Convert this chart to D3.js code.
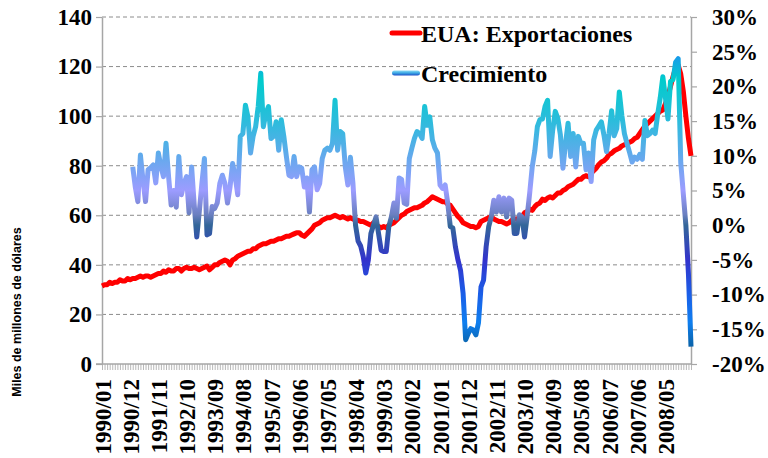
<!DOCTYPE html>
<html>
<head>
<meta charset="utf-8">
<script src="https://cdn.jsdelivr.net/npm/d3@7"></script>
<style>
  body { margin: 0; background: #fff; }
  svg text, .tick text { font-family: "Liberation Serif", "Times New Roman", serif !important; font-weight: bold; fill: #000; }
  svg text.sans { font-family: "Liberation Sans", Arial, sans-serif !important; }
</style>
</head>
<body>
<svg id="chart" width="768" height="458"></svg>
<script>
// Monthly US exports (billions of dollars), 1990/01 .. 2009/03
var exportsData = [
  31.5, 32, 32, 33, 32.5, 33, 33, 34, 33.5, 33.5, 34.5, 34,          // 1990
  34.5, 34.5, 35, 35.5, 35, 35.5, 35.5, 35, 35.5, 36, 36.5, 36.5,    // 1991
  37.5, 37, 38, 37.5, 37.5, 38.5, 38.5, 37.5, 38.5, 39, 38.5, 38.5,  // 1992
  39, 38.5, 38, 38.5, 39, 39.5, 38, 39, 40, 40, 41, 41.5,            // 1993
  42, 41.5, 40, 42, 42.5, 43.5, 44, 44.5, 45, 45.5, 45.5, 46.5,      // 1994
  46.5, 47.5, 48, 48.5, 48.5, 49, 49.5, 49.5, 50, 50.5, 50.5, 51,    // 1995
  51.5, 51.5, 52, 52.5, 53, 53, 52, 51.5, 52.5, 53.5, 54.5, 56,      // 1996
  56.5, 57, 58, 58.5, 59, 59, 59.5, 60, 59.5, 59, 59.5, 59,          // 1997
  58.5, 59, 58.5, 58, 58, 57.5, 57.5, 57, 56.5, 56, 57, 56,          // 1998
  55.5, 55, 55.5, 55, 56, 56.5, 57, 58, 59, 60, 60.5, 61.5,          // 1999
  62, 62.5, 63, 63, 63.5, 64, 65, 65.5, 66.5, 67.5, 67, 66.5,        // 2000
  66, 65.5, 65.5, 64.5, 64, 62.5, 61, 59.5, 58.5, 57, 56.5, 56,      // 2001
  55.5, 55.5, 55, 55.5, 57.5, 58, 58.5, 59, 59.5, 58.5, 58, 57.5,    // 2002
  57.5, 57, 56.5, 57, 58, 58.5, 58.5, 59, 59.5, 61, 61.5, 62.5,      // 2003
  62, 63.5, 64.5, 65, 66.5, 66, 67, 67.5, 67, 68, 69, 69,            // 2004
  70, 70.5, 71.5, 72, 72.5, 73.5, 74.5, 74.5, 75.5, 76, 75.5, 77,    // 2005
  78, 79, 80.5, 81.5, 82, 83, 84.5, 85, 86, 86.5, 87, 88,            // 2006
  88.5, 89, 89.5, 90, 91, 91.5, 93, 94.5, 96, 97, 98, 99,            // 2007
  100, 101, 102, 102.5, 105, 108, 112, 116, 119.5, 120.5, 117, 110,  // 2008
  100, 91, 84                                                        // 2009
];

// Year-on-year growth (%), 1991/01 .. 2009/03
var growthData = [
  8.4, 5.5, 3.4, 10.1, 6.5, 3.4, 8.0, 8.3, 8.7, 6.1, 10.4, 8.5,         // 1991
  7.0, 11.8, 7.0, 2.9, 5.0, 2.6, 9.9, 4.4, 6.0, 7.0, 1.8, 8.4,          // 1992
  3.0, -1.7, 2.0, 6.0, 9.6, -1.4, -1.2, 2.7, 2.4, 3.2, 6.0, 7.2,        // 1993
  6.0, 3.2, 5.5, 8.9, 7.0, 4.4, 12.8, 13.2, 17.3, 15.6, 10.4, 12.8,     // 1994
  14.2, 17.1, 21.9, 14.2, 16.1, 17.1, 12.5, 12.8, 14.9, 10.8, 15.2, 12.8, // 1995
  9.9, 7.2, 7.0, 9.9, 7.0, 8.4, 8.2, 5.5, 6.8, 1.9, 8.0, 8.4,           // 1996
  5.1, 6.0, 9.6, 10.8, 11.1, 10.8, 11.8, 18.0, 10.8, 13.5, 13.2, 8.4,   // 1997
  5.8, 9.8, 6.0, 0.0, -2.3, -3.0, -4.5, -6.9, -5.0, -1.2, 0.0, 1.2,     // 1998
  -1.2, -3.6, -3.8, -3.8, -0.2, 1.2, 3.2, 1.0, 6.8, 6.6, 3.2, 3.0,      // 1999
  9.6, 11.1, 12.5, 13.5, 13.2, 12.5, 17.1, 14.4, 15.6, 12.3, 11.1, 10.4, // 2000
  5.8, 5.3, 5.8, 3.2, -0.2, -0.4, -3.1, -5.0, -6.5, -9.8, -16.5, -15.6, // 2001
  -14.9, -15.1, -15.8, -14.1, -8.9, -7.9, -3.1, -0.2, 1.2, 3.6, 1.9, 4.1, // 2002
  1.9, 3.9, 1.2, 3.9, 3.6, -1.2, -1.2, 1.5, 1.2, -1.7, 1.2, 4.6,        // 2003
  8.4, 10.7, 14.2, 15.2, 15.3, 17.1, 18.0, 9.9, 13.7, 16.4, 15.4, 13.0, // 2004
  8.2, 11.8, 14.7, 9.9, 13.2, 8.4, 12.8, 11.8, 11.8, 8.0, 10.4, 6.3,    // 2005
  12.3, 13.7, 14.3, 14.9, 13.0, 10.6, 13.2, 16.5, 12.9, 13.9, 19.2, 15.8, // 2006
  13.2, 11.8, 10.5, 9.1, 9.8, 9.5, 10.2, 9.5, 15.1, 12.9, 13.2, 13.7,   // 2007
  13.2, 16.0, 18.4, 21.4, 18.4, 15.3, 20.7, 21.0, 23.5, 24.0, 9.0, 4.5, // 2008
  0.0, -7.0, -17.5                                                      // 2009
];
var growthStart = 12; // growth series begins one year after exports

var xLabels = ['1990/01', '1990/12', '1991/11', '1992/10', '1993/09', '1994/08',
  '1995/07', '1996/06', '1997/05', '1998/04', '1999/03', '2000/02', '2001/01',
  '2001/12', '2002/11', '2003/10', '2004/09', '2005/08', '2006/07', '2007/06', '2008/05'];
var leftTicks = [0, 20, 40, 60, 80, 100, 120, 140];
var rightTicks = [-20, -15, -10, -5, 0, 5, 10, 15, 20, 25, 30];
var seriesNames = ['EUA: Exportaciones', 'Crecimiento'];

// colour ramp of the growth line, by value (%)
var rampValues = [25, 21, 15, 10, 5, 1.5, 0, -5, -10, -14, -17, -20];
var rampColors = ['#1e90f0', '#00cccc', '#2cbcdc', '#62aaec', '#9c9cff', '#6a7fc0',
  '#336699', '#3333cc', '#1a5fe8', '#0f7ff0', '#0a66b0', '#0d5090'];

var SERIF = '"Liberation Serif", "Times New Roman", serif';

function drawChart() {
  var svg = d3.select('#chart');
  var plotLeft = 102, plotRight = 691, plotTop = 17, plotBottom = 364;

  var x = d3.scaleLinear().domain([0, exportsData.length - 1]).range([plotLeft, plotRight]);
  var yL = d3.scaleLinear().domain([0, 140]).range([plotBottom, plotTop]);
  var yR = d3.scaleLinear().domain([-20, 30]).range([plotBottom, plotTop]);

  var defs = svg.append('defs');
  var rampTop = rampValues[0], rampBottom = rampValues[rampValues.length - 1];
  var grad = defs.append('linearGradient')
    .attr('id', 'growthGrad')
    .attr('gradientUnits', 'userSpaceOnUse')
    .attr('x1', 0).attr('x2', 0)
    .attr('y1', yR(rampTop)).attr('y2', yR(rampBottom));
  rampValues.forEach(function(v, i) {
    grad.append('stop')
      .attr('offset', (rampTop - v) / (rampTop - rampBottom))
      .attr('stop-color', rampColors[i]);
  });
  var legGrad = defs.append('linearGradient')
    .attr('id', 'legendGrad')
    .attr('x1', 0).attr('x2', 0).attr('y1', 0).attr('y2', 1);
  legGrad.append('stop').attr('offset', 0).attr('stop-color', '#8fdcf4');
  legGrad.append('stop').attr('offset', 0.5).attr('stop-color', '#3aa8e4');
  legGrad.append('stop').attr('offset', 1).attr('stop-color', '#2050c8');

  // gridlines
  svg.append('g')
    .selectAll('line')
    .data(leftTicks.filter(function(d) { return d > 0; }))
    .join('line')
    .attr('x1', plotLeft).attr('x2', plotRight)
    .attr('y1', function(d) { return yL(d); })
    .attr('y2', function(d) { return yL(d); })
    .attr('stroke', '#8c8c8c')
    .attr('stroke-width', 1)
    .attr('stroke-dasharray', '4,3');

  // month ticks on the bottom axis
  var monthAxis = svg.append('g')
    .attr('transform', 'translate(0,' + plotBottom + ')')
    .call(d3.axisBottom(x).tickValues(d3.range(exportsData.length)).tickSize(6).tickFormat(''));
  monthAxis.selectAll('line').attr('stroke', '#a6a6a6').attr('stroke-width', 0.8);
  monthAxis.select('.domain').remove();

  var xAxis = svg.append('g')
    .attr('transform', 'translate(0,' + plotBottom + ')')
    .call(d3.axisBottom(x)
      .tickValues(xLabels.map(function(d, i) { return i * 11; }))
      .tickSize(0)
      .tickFormat(function(d) { return xLabels[d / 11]; }));
  xAxis.select('.domain').attr('stroke', '#a6a6a6').attr('stroke-width', 1.5)
    .attr('d', 'M' + (plotLeft - 6) + ',0H' + plotRight);
  xAxis.selectAll('text')
    .attr('transform', 'rotate(-90)')
    .attr('text-anchor', 'end')
    .attr('x', -15).attr('y', 0).attr('dy', '0.35em');

  var yAxisL = svg.append('g')
    .attr('transform', 'translate(' + plotLeft + ',0)')
    .call(d3.axisLeft(yL).tickValues(leftTicks).tickSize(6).tickPadding(4).tickSizeOuter(0));
  yAxisL.select('.domain').attr('stroke', '#a6a6a6').attr('stroke-width', 1.5);
  yAxisL.selectAll('line').attr('stroke', '#a6a6a6').attr('stroke-width', 1.2);

  var yAxisR = svg.append('g')
    .attr('transform', 'translate(' + plotRight + ',0)')
    .call(d3.axisRight(yR).tickValues(rightTicks).tickSize(6).tickPadding(15).tickSizeOuter(0)
      .tickFormat(function(d) { return d + '%'; }));
  yAxisR.select('.domain').attr('stroke', '#a6a6a6').attr('stroke-width', 1.5);
  yAxisR.selectAll('line').attr('stroke', '#a6a6a6').attr('stroke-width', 1.2);

  [xAxis, yAxisL, yAxisR].forEach(function(g) {
    g.attr('font-family', SERIF).attr('font-size', 23).attr('font-weight', 'bold');
    g.selectAll('text')
      .attr('font-family', SERIF)
      .attr('font-size', 23)
      .attr('font-weight', 'bold');
  });

  // exports line
  svg.append('path')
    .datum(exportsData)
    .attr('fill', 'none')
    .attr('stroke', '#ff0000')
    .attr('stroke-width', 5)
    .attr('stroke-linejoin', 'round')
    .attr('d', d3.line()
      .x(function(d, i) { return x(i); })
      .y(function(d) { return yL(d); }));

  // growth line
  svg.append('path')
    .datum(growthData)
    .attr('fill', 'none')
    .attr('stroke', 'url(#growthGrad)')
    .attr('stroke-width', 5)
    .attr('stroke-linejoin', 'round')
    .attr('d', d3.line()
      .x(function(d, i) { return x(i + growthStart); })
      .y(function(d) { return yR(d); }));

  // legend
  var legend = svg.append('g');
  legend.append('line')
    .attr('x1', 392).attr('x2', 420).attr('y1', 33).attr('y2', 33)
    .attr('stroke', '#ff0000').attr('stroke-width', 5).attr('stroke-linecap', 'round');
  legend.append('rect')
    .attr('x', 392).attr('y', 70.5).attr('width', 28).attr('height', 5).attr('rx', 2.5)
    .attr('fill', 'url(#legendGrad)');
  legend.selectAll('text')
    .data(seriesNames)
    .join('text')
    .attr('x', 421)
    .attr('y', function(d, i) { return i === 0 ? 42 : 82; })
    .attr('font-size', 24)
    .text(function(d) { return d; });

  // left axis title
  svg.append('text')
    .attr('class', 'sans')
    .attr('transform', 'translate(21,312) rotate(-90)')
    .attr('text-anchor', 'middle')
    .attr('font-size', 12.5)
    .text('Miles de millones de dólares');
}

drawChart();
</script>
</body>
</html>
